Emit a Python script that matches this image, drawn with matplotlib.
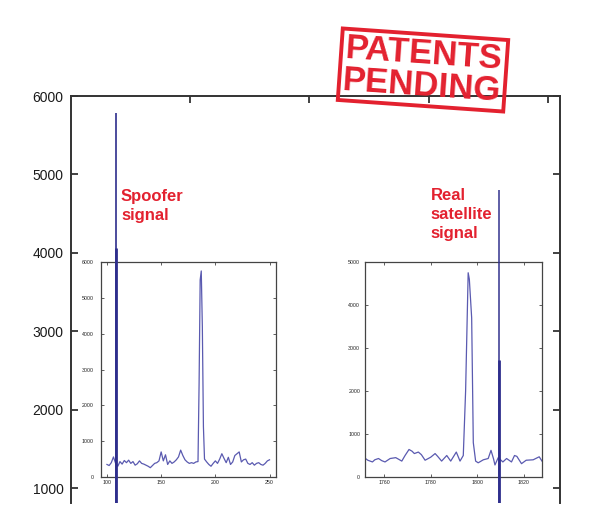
import matplotlib
matplotlib.use('Agg')
import matplotlib.pyplot as plt

# ---------------- data ----------------
main_yticks = [1000, 2000, 3000, 4000, 5000, 6000]
main_xticks = [1, 2, 3, 4]
main_ylim = (810, 6000)
main_xlim = (0, 4.1)

spoofer_x = 0.377
spoofer_top = 5780
spoofer_thick_top = 4060
real_x = 3.59
real_top = 4800
real_thick_top = 2630

left_x = [100, 102, 104, 106, 108, 110, 112, 114, 116, 118, 120, 122, 124, 126, 128,
          130, 132, 134, 136, 138, 140, 142, 144, 146, 148, 150, 152, 154, 156, 158,
          160, 162, 164, 166, 168, 170, 172, 174, 176, 178, 180, 182, 184, 185, 186,
          187, 188, 189, 190, 192, 194, 196, 198, 200, 202, 204, 206, 208, 210, 212,
          214, 216, 218, 220, 222, 224, 226, 228, 230, 232, 234, 236, 238, 240, 242,
          244, 246, 248, 250]
left_y = [350, 320, 400, 560, 380, 300, 430, 360, 460, 400, 470, 380, 430, 330, 370,
          450, 380, 360, 330, 300, 260, 320, 380, 400, 450, 700, 450, 620, 350, 450,
          380, 420, 480, 560, 750, 600, 480, 420, 380, 400, 380, 420, 430, 2600, 5500,
          5750, 4200, 1400, 500, 420, 350, 300, 380, 450, 380, 500, 650, 520, 400, 550,
          350, 420, 600, 650, 700, 420, 480, 500, 380, 350, 400, 330, 380, 400, 350,
          330, 380, 450, 480]
left_xticks = [100, 150, 200, 250]
left_yticks = [0, 1000, 2000, 3000, 4000, 5000, 6000]
left_xlim = (94.5, 255.5)
left_ylim = (0, 6000)

right_x = [1752, 1753, 1755, 1756, 1757.6, 1759, 1760.4, 1762.6, 1765, 1766, 1767.6,
           1769, 1770.7, 1772, 1773, 1774.7, 1776, 1777.6, 1780, 1781.9, 1783, 1784.7,
           1786.9, 1788.6, 1791, 1792.6, 1794, 1795, 1796.1, 1796.6, 1797.6, 1798.3,
           1799.3, 1800.4, 1802.6, 1804.7, 1805.9, 1807, 1807.6, 1809, 1811, 1812.6,
           1814.7, 1816, 1817, 1819, 1821, 1824, 1826.6, 1827.8]
right_y = [430, 390, 350, 400, 430, 380, 350, 430, 450, 420, 370,
           500, 640, 600, 545, 580, 520, 390, 460, 545, 480, 370,
           500, 370, 580, 370, 500, 2000, 4750, 4600, 3700, 800,
           370, 330, 400, 430, 620, 420, 280, 450, 350, 430,
           350, 500, 480, 310, 390, 400, 470, 370]
right_xticks = [1760, 1780, 1800, 1820]
right_yticks = [0, 1000, 2000, 3000, 4000, 5000]
right_xlim = (1751.8, 1827.8)
right_ylim = (0, 5000)

spoofer_label = "Spoofer\nsignal"
real_label = "Real\nsatellite\nsignal"
stamp_label = "PATENTS\nPENDING"

# ---------------- style ----------------
RED = '#e3212f'
NAVY = '#2e2e8c'
TRACE = '#5a5ab0'
FRAME = '#333333'
plt.rcParams['font.family'] = ['Liberation Sans', 'DejaVu Sans']

W, H = 600, 524
def fr(l, t, r, b):
    return [l / W, 1 - b / H, (r - l) / W, (b - t) / H]

fig = plt.figure(figsize=(6, 5.24), dpi=100)

# main axes (drawn on top of insets, transparent)
ax = fig.add_axes(fr(70.5, 96, 560, 503), zorder=3)
ax.set_facecolor('none')
ax.set_xlim(*main_xlim)
ax.set_ylim(*main_ylim)
ax.spines['bottom'].set_visible(False)
for s in ['left', 'right', 'top']:
    ax.spines[s].set_linewidth(1.4)
    ax.spines[s].set_color(FRAME)
ax.set_yticks(main_yticks)
ax.set_xticks(main_xticks)
ax.xaxis.set_ticks_position('top')
ax.tick_params(axis='x', direction='in', length=5, width=1.3, color=FRAME,
               labeltop=False, labelbottom=False)
ax.tick_params(axis='y', direction='in', length=5, width=1.3, color=FRAME,
               left=True, right=True, labelsize=10, pad=5, labelcolor='#1a1a1a')

ax.vlines([spoofer_x], main_ylim[0], [spoofer_top], color=NAVY, lw=1.2)
ax.vlines([spoofer_x], main_ylim[0], [spoofer_thick_top], color=NAVY, lw=2.0)
ax.vlines([real_x], main_ylim[0], [real_top], color=NAVY, lw=1.2, alpha=0.9)
ax.vlines([real_x], main_ylim[0], [real_thick_top], color=NAVY, lw=2.0)


def style_inset(a, xt, yt, xl, yl, ypad):
    a.set_xlim(*xl)
    a.set_ylim(*yl)
    a.set_xticks(xt)
    a.set_yticks(yt)
    for s in a.spines.values():
        s.set_linewidth(0.9)
        s.set_color('#444444')
    a.tick_params(direction='in', length=2, width=0.6, color='#444444',
                  top=True, right=True, labelsize=3.8, labelcolor='#222222')
    a.tick_params(axis='y', pad=ypad)
    a.tick_params(axis='x', pad=2.5)


ins1 = fig.add_axes(fr(101, 262, 275.5, 477), zorder=1)
ins1.plot(left_x, left_y, color=TRACE, lw=0.9)
style_inset(ins1, left_xticks, left_yticks, left_xlim, left_ylim, 5.5)

ins2 = fig.add_axes(fr(365, 262, 542, 477), zorder=1)
ins2.plot(right_x, right_y, color=TRACE, lw=0.9)
style_inset(ins2, right_xticks, right_yticks, right_xlim, right_ylim, 3.5)

# labels
fig.text(121 / W, 1 - 189 / H, spoofer_label, color=RED, fontsize=12,
         fontweight='bold', ha='left', va='top', linespacing=1.32, zorder=10)
fig.text(430.5 / W, 1 - 188.5 / H, real_label, color=RED, fontsize=12,
         fontweight='bold', ha='left', va='top', linespacing=1.32, zorder=10)

# stamp
fig.text(423 / W, 1 - 70 / H, stamp_label, color=RED, fontsize=25,
         fontweight='bold', ha='center', va='center', multialignment='center',
         rotation=-4, linespacing=0.95, zorder=10,
         bbox=dict(boxstyle='square,pad=0.1', fc='none', ec=RED, lw=2.8))

fig.savefig('out.png', dpi=100)
